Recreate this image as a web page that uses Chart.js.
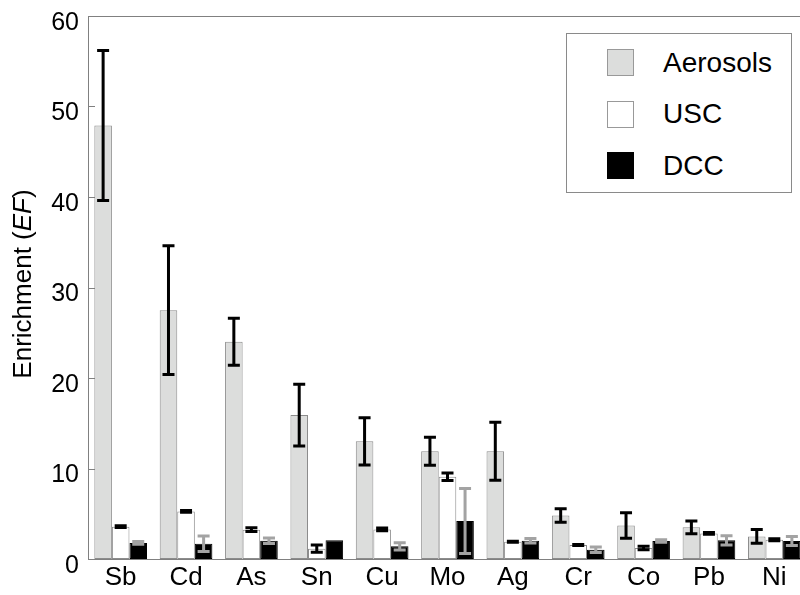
<!DOCTYPE html>
<html>
<head>
<meta charset="utf-8">
<script src="https://cdn.jsdelivr.net/npm/chart.js@4/dist/chart.umd.min.js"></script>
<style>
  html, body { margin: 0; padding: 0; background: #fff; overflow: hidden; }
  #wrap { position: relative; width: 800px; height: 595px; overflow: hidden; }
  #chart { position: absolute; left: 0; top: 0; }
  #legend {
    position: absolute; left: 566px; top: 33px; width: 224px; height: 158px;
    border: 1px solid #8a8a8a; background: #fff;
    font-family: "Liberation Sans", Arial, sans-serif; font-size: 28px; color: #000;
  }
  .item { position: absolute; left: 40px; height: 27px; display: flex; align-items: center; }
  .sw { width: 25px; height: 25px; border: 1px solid #999; margin-right: 29px; }
</style>
</head>
<body>
<div id="wrap">
  <canvas id="chart" width="807" height="595"></canvas>
  <div id="legend"></div>
</div>
<script>
// Datos
const categories = ["Sb", "Cd", "As", "Sn", "Cu", "Mo", "Ag", "Cr", "Co", "Pb", "Ni"];
const aerosols = [47.9, 27.5, 24.0, 15.9, 13.0, 11.9, 11.9, 4.8, 3.7, 3.5, 2.5];
const aerosolsErr = [8.3, 7.1, 2.6, 3.4, 2.6, 1.55, 3.2, 0.75, 1.4, 0.7, 0.75];
const usc = [3.57, 5.26, 3.24, 1.14, 3.27, 9.09, 1.91, 1.54, 1.21, 2.83, 2.13];
const uscErr = [0.1, 0.1, 0.2, 0.4, 0.15, 0.42, 0.05, 0.05, 0.2, 0.1, 0.1];
const dcc = [1.77, 1.69, 2.02, 2.06, 1.4, 4.2, 2.02, 1.03, 1.99, 2.06, 1.99];
const dccErr = [0.15, 0.85, 0.3, 0, 0.4, 3.6, 0.25, 0.3, 0.15, 0.5, 0.5];
const yTicks = [0, 10, 20, 30, 40, 50, 60];

const seriesNames = ["Aerosols", "USC", "DCC"];
const fills = ["#dcdddc", "#ffffff", "#000000"];
const borders = ["#8c8c8c", "#8c8c8c", "#000000"];
const errColors = ["#000000", "#000000", "#a3a3a3"];
const errors = [aerosolsErr, uscErr, dccErr];

const FONT = '"Liberation Sans", Arial, sans-serif';

// Leyenda HTML
const legend = document.getElementById("legend");
seriesNames.forEach((name, i) => {
  const div = document.createElement("div");
  div.className = "item";
  div.style.top = 15 + i * 51.5 + "px";
  div.innerHTML = `<span class="sw" style="background:${fills[i]};border-color:${i === 2 ? "#000" : "#999"}"></span>${name}`;
  legend.appendChild(div);
});

// Marco, marcas interiores, barras de error y título del eje
const extras = {
  id: "extras",
  afterDatasetsDraw(chart) {
    const { ctx, chartArea: a, scales } = chart;
    const y = scales.y;
    ctx.save();
    // barras de error
    chart.data.datasets.forEach((ds, di) => {
      const meta = chart.getDatasetMeta(di);
      meta.data.forEach((bar, i) => {
        const e = errors[di][i];
        if (!e) return;
        const v = ds.data[i];
        const top = y.getPixelForValue(v + e);
        const bot = y.getPixelForValue(v - e);
        ctx.strokeStyle = errColors[di];
        ctx.lineWidth = 3;
        ctx.beginPath();
        ctx.moveTo(bar.x, top);
        ctx.lineTo(bar.x, bot);
        ctx.moveTo(bar.x - 6, top);
        ctx.lineTo(bar.x + 6, top);
        ctx.moveTo(bar.x - 6, bot);
        ctx.lineTo(bar.x + 6, bot);
        ctx.stroke();
      });
    });
    // marco
    ctx.strokeStyle = "#808080";
    ctx.lineWidth = 1;
    ctx.strokeRect(a.left + 0.5, a.top + 0.5, a.right - a.left, a.bottom - a.top);
    // marcas hacia dentro
    ctx.beginPath();
    yTicks.slice(1, -1).forEach((t) => {
      const py = Math.round(y.getPixelForValue(t)) + 0.5;
      ctx.moveTo(a.left, py);
      ctx.lineTo(a.left + 7, py);
    });
    ctx.stroke();
    // título del eje Y con "EF" en cursiva
    const parts = [["Enrichment (", "normal"], ["EF", "italic"], [")", "normal"]];
    ctx.fillStyle = "#000";
    ctx.textBaseline = "middle";
    ctx.textAlign = "left";
    let total = 0;
    parts.forEach(([t, s]) => { ctx.font = `${s} 26px ${FONT}`; total += ctx.measureText(t).width; });
    ctx.translate(24, 284);
    ctx.rotate(-Math.PI / 2);
    let x = -total / 2;
    parts.forEach(([t, s]) => {
      ctx.font = `${s} 26px ${FONT}`;
      ctx.fillText(t, x, 0);
      x += ctx.measureText(t).width;
    });
    ctx.restore();
  },
};

new Chart(document.getElementById("chart"), {
  type: "bar",
  data: {
    labels: categories,
    datasets: [aerosols, usc, dcc].map((d, i) => ({
      label: seriesNames[i],
      data: d,
      backgroundColor: fills[i],
      borderColor: borders[i],
      borderWidth: 1,
      borderSkipped: false,
      categoryPercentage: 0.806,
      barPercentage: 1.0,
    })),
  },
  options: {
    responsive: false,
    animation: false,
    devicePixelRatio: 1,
    layout: { padding: { top: 16, right: 0, left: 0, bottom: 0 } },
    plugins: { legend: { display: false }, tooltip: { enabled: false } },
    scales: {
      x: {
        grid: { display: false, drawTicks: false },
        border: { display: false },
        ticks: { color: "#000", font: { family: FONT, size: 26 }, padding: 3, maxRotation: 0, autoSkip: false },
        afterFit: (s) => { s.height = 36; s.paddingLeft = 0; s.paddingRight = 0; },
      },
      y: {
        min: 0,
        max: 60,
        afterBuildTicks: (s) => { s.ticks = yTicks.map((v) => ({ value: v })); },
        grid: { display: false, drawTicks: false },
        border: { display: false },
        ticks: { color: "#000", font: { family: FONT, size: 25 }, padding: 9, labelOffset: 7 },
        afterFit: (s) => { s.width = 88; s.paddingTop = 0; s.paddingBottom = 0; },
      },
    },
  },
  plugins: [extras],
});
</script>
</body>
</html>
